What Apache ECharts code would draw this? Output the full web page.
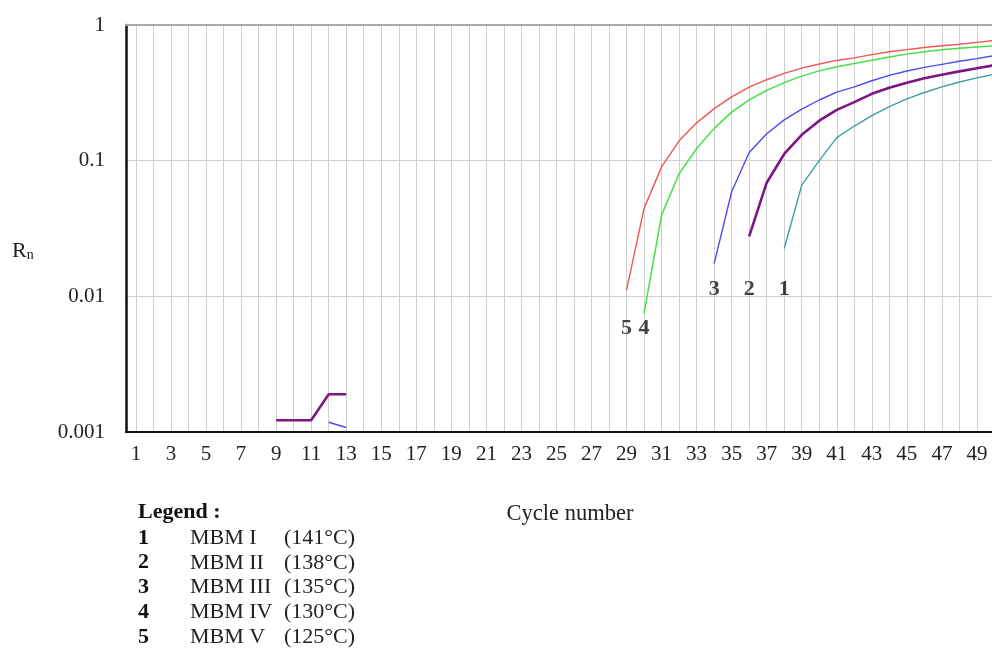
<!DOCTYPE html>
<html>
<head>
<meta charset="utf-8">
<title>Rn vs cycle number</title>
<script src="https://cdn.jsdelivr.net/npm/echarts@6/dist/echarts.min.js"></script>
<style>
    html, body { margin: 0; padding: 0; background: #fff; }
    #chart { width: 992px; height: 652px; }
</style>
</head>
<body>
<div id="chart"></div>
<script>
    // cycles 1..50
    var cycles = [];
    for (var c = 1; c <= 50; c++) cycles.push(c);
    var yTickLabels = ['0.001', '0.01', '0.1', '1'];

    // each curve: first cycle + values
    var mbm1Start = 38;
    var mbm1 = [0.0225, 0.066, 0.100, 0.148, 0.180, 0.215, 0.250, 0.285, 0.318, 0.350, 0.380, 0.408, 0.433];
    var mbm2Start = 36;
    var mbm2 = [0.0277, 0.0688, 0.112, 0.155, 0.197, 0.237, 0.270, 0.311, 0.345, 0.375, 0.405, 0.430, 0.455, 0.480, 0.505];
    var mbm2EarlyStart = 9;
    var mbm2Early = [0.00122, 0.00122, 0.00122, 0.0019, 0.0019];
    var mbm3Start = 34;
    var mbm3 = [0.0174, 0.059, 0.115, 0.158, 0.200, 0.240, 0.280, 0.320, 0.350, 0.388, 0.425, 0.458, 0.487, 0.513, 0.540, 0.565, 0.595];
    var mbm3EarlyStart = 12;
    var mbm3Early = [0.00118, 0.00108];
    var mbm4Start = 30;
    var mbm4 = [0.0075, 0.0397, 0.080, 0.123, 0.173, 0.228, 0.281, 0.330, 0.376, 0.420, 0.459, 0.493, 0.520, 0.550, 0.582, 0.610, 0.635, 0.657, 0.673, 0.688, 0.703];
    var mbm5Start = 29;
    var mbm5 = [0.0111, 0.0445, 0.090, 0.140, 0.190, 0.242, 0.295, 0.348, 0.395, 0.440, 0.481, 0.516, 0.548, 0.572, 0.605, 0.635, 0.658, 0.682, 0.703, 0.722, 0.745, 0.768];

    // curve number tags
    var tagTexts = ['1', '2', '3', '4', '5'];
    var tagCycles = [38, 36, 34, 30, 29];
    var tagLevels = [0.0113, 0.0113, 0.0113, 0.0058, 0.0058];

    // legend block
    var legendNums = ['1', '2', '3', '4', '5'];
    var legendNames = ['MBM I', 'MBM II', 'MBM III', 'MBM IV', 'MBM V'];
    var legendTemps = ['(141°C)', '(138°C)', '(135°C)', '(130°C)', '(125°C)'];

    var FONT = '"Liberation Serif", "Times New Roman", serif';

    // put segments on the cycle grid, '-' where nothing is drawn
    function buildLine(segments) {
        var map = {};
        for (var s = 0; s < segments.length; s++) {
            var st = segments[s][0], vals = segments[s][1];
            for (var i = 0; i < vals.length; i++) map[st + i] = vals[i];
        }
        var out = [];
        for (var k = 0; k < cycles.length; k++) {
            var cy = cycles[k];
            out.push([cy, map[cy] === undefined ? '-' : map[cy]]);
        }
        return out;
    }

    function lineSeries(name, color, width, data) {
        return {
            name: name,
            type: 'line',
            symbol: 'none',
            connectNulls: false,
            lineStyle: { color: color, width: width },
            itemStyle: { color: color },
            data: data,
            z: 3
        };
    }

    var tagData = [];
    for (var t = 0; t < tagTexts.length; t++) {
        tagData.push({ value: [tagCycles[t], tagLevels[t]], name: tagTexts[t] });
    }

    var legendGraphics = [{
        type: 'text', left: 138, top: 501,
        style: { text: 'Legend :', font: 'bold 22px ' + FONT, fill: '#111' }
    }];
    for (var r = 0; r < legendNums.length; r++) {
        var ty = 527 + r * 24.8;
        legendGraphics.push({
            type: 'text', left: 138, top: ty,
            style: { text: legendNums[r], font: 'bold 22px ' + FONT, fill: '#111' }
        });
        legendGraphics.push({
            type: 'text', left: 190, top: ty,
            style: { text: legendNames[r], font: '22px ' + FONT, fill: '#222' }
        });
        legendGraphics.push({
            type: 'text', left: 284, top: ty,
            style: { text: legendTemps[r], font: '22px ' + FONT, fill: '#222' }
        });
    }
    legendGraphics.push({
        type: 'text', left: 12, top: 240,
        style: {
            text: '{r|R}{s|n}',
            rich: {
                r: { fontSize: 22, fontFamily: FONT, fill: '#222' },
                s: { fontSize: 14, fontFamily: FONT, fill: '#222', padding: [8, 0, 0, 0] }
            }
        }
    });

    var chart = echarts.init(document.getElementById('chart'));
    var option = {
        animation: false,
        backgroundColor: '#fff',
        grid: { left: 126, top: 25, right: 0, bottom: 220 },
        xAxis: [{
            type: 'value',
            min: 0.43,
            max: 49.86,
            splitNumber: 50,
            minInterval: 1,
            maxInterval: 1,
            name: 'Cycle number',
            nameLocation: 'middle',
            nameGap: 71,
            nameTextStyle: { fontSize: 22.5, fontFamily: FONT, color: '#222', padding: [0, 0, 0, 22] },
            axisLine: { show: true, lineStyle: { color: '#111', width: 2 } },
            axisTick: { show: false },
            axisLabel: {
                fontSize: 21, fontFamily: FONT, color: '#222', margin: 12,
                showMinLabel: false, showMaxLabel: false,
                formatter: function (v) {
                    var n = Math.round(v);
                    if (Math.abs(v - n) > 1e-6 || n % 2 !== 1) return '';
                    return String(n);
                }
            },
            splitLine: { show: true, lineStyle: { color: '#cfcfcf', width: 1 } }
        }, {
            type: 'value',
            position: 'top',
            min: 0.43,
            max: 49.86,
            axisLine: { show: true, lineStyle: { color: '#a8a8a8', width: 2 } },
            axisTick: { show: false },
            axisLabel: { show: false },
            splitLine: { show: false }
        }],
        yAxis: {
            type: 'log',
            logBase: 10,
            min: 0.001,
            max: 1,
            axisLine: { show: true, lineStyle: { color: '#111', width: 2.5 } },
            axisTick: { show: false },
            axisLabel: {
                fontSize: 21, fontFamily: FONT, color: '#222', margin: 21,
                padding: [0, 0, 14, 0],
                formatter: function (v) {
                    var idx = Math.round(Math.log(v) / Math.LN10) + 3;
                    return yTickLabels[idx] || '';
                }
            },
            splitLine: { show: true, lineStyle: { color: '#cfcfcf', width: 1 } }
        },
        series: [
            lineSeries('MBM I', '#3fa0a0', 1.4, buildLine([[mbm1Start, mbm1]])),
            lineSeries('MBM II', '#7e1583', 2.6, buildLine([[mbm2EarlyStart, mbm2Early], [mbm2Start, mbm2]])),
            lineSeries('MBM III', '#4b4bf0', 1.4, buildLine([[mbm3EarlyStart, mbm3Early], [mbm3Start, mbm3]])),
            lineSeries('MBM IV', '#44e044', 1.5, buildLine([[mbm4Start, mbm4]])),
            lineSeries('MBM V', '#f05555', 1.4, buildLine([[mbm5Start, mbm5]])),
            {
                name: 'tags',
                type: 'scatter',
                symbolSize: 1,
                itemStyle: { color: 'rgba(0,0,0,0)' },
                label: {
                    show: true,
                    position: 'inside',
                    formatter: '{b}',
                    fontSize: 22,
                    fontWeight: 'bold',
                    fontFamily: FONT,
                    color: '#111'
                },
                data: tagData,
                z: 4
            }
        ],
        graphic: legendGraphics
    };
    chart.setOption(option);
</script>
</body>
</html>
